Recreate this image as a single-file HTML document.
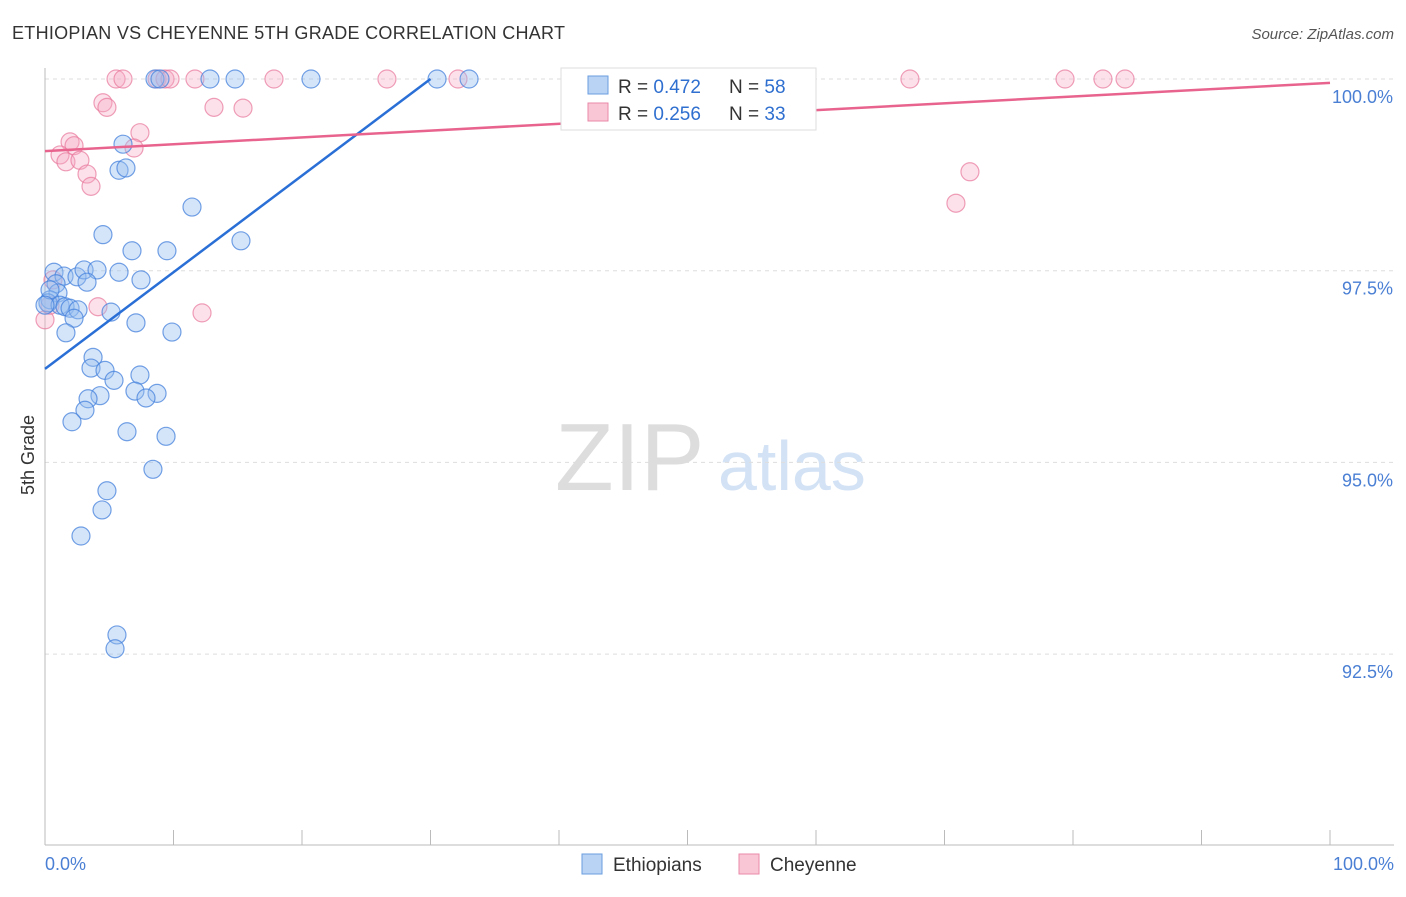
<!DOCTYPE html>
<html><head><meta charset="utf-8"><style>
body{margin:0;background:#fff;font-family:"Liberation Sans",sans-serif;}
svg text{font-family:"Liberation Sans",sans-serif;}
</style></head><body>
<svg id="chart" width="1406" height="892">
<text x="12" y="39" font-size="18" fill="#333" textLength="553">ETHIOPIAN VS CHEYENNE 5TH GRADE CORRELATION CHART</text>
<text x="1394" y="39" font-size="15" fill="#555" font-style="italic" text-anchor="end">Source: ZipAtlas.com</text>
<text x="555" y="490" font-size="96" fill="#ddd" font-family="Liberation Serif">ZIP</text>
<text x="718" y="490" font-size="70" fill="#d3e2f5">atlas</text>
<text x="34" y="455" font-size="18" fill="#333" transform="rotate(-90 34 455)" text-anchor="middle">5th Grade</text>
<g id="grid"></g><g id="pts"></g><g id="lines"></g>
<g>
<rect x="561" y="68" width="255" height="62" fill="#fff" stroke="#ddd"/>
<rect x="588" y="76" width="20" height="18" fill="#b9d3f5" stroke="#6a9de0"/>
<rect x="588" y="103" width="20" height="18" fill="#f9c6d5" stroke="#eb8aa8"/>
<text x="618" y="93" font-size="19" fill="#333">R = <tspan fill="#2f6fcf">0.472</tspan></text>
<text x="729" y="93" font-size="19" fill="#333">N = <tspan fill="#2f6fcf">58</tspan></text>
<text x="618" y="120" font-size="19" fill="#333">R = <tspan fill="#2f6fcf">0.256</tspan></text>
<text x="729" y="120" font-size="19" fill="#333">N = <tspan fill="#2f6fcf">33</tspan></text>
</g>
<g>
<rect x="582" y="854" width="20" height="20" fill="#b9d3f5" stroke="#6a9de0"/>
<text x="613" y="871" font-size="19" fill="#333">Ethiopians</text>
<rect x="739" y="854" width="20" height="20" fill="#f9c6d5" stroke="#eb8aa8"/>
<text x="770" y="871" font-size="19" fill="#333">Cheyenne</text>
</g>
<text x="45" y="870" font-size="18" fill="#4a7fd4">0.0%</text>
<text x="1394" y="870" font-size="18" fill="#4a7fd4" text-anchor="end">100.0%</text>
</svg>
<script>
const yTicks=[100,97.5,95,92.5];
const yTickLabels=["100.0%","97.5%","95.0%","92.5%"];
const xTicks=[0,10,20,30,40,50,60,70,80,90,100];
const ethX=[8.56,8.95,12.84,14.79,20.70,30.51,33.0,6.07,5.76,6.30,11.44,4.51,6.77,9.49,15.25,0.70,1.48,2.49,3.04,4.05,5.76,7.47,3.27,0.86,1.01,0.39,0.23,1.17,1.56,1.95,2.57,5.14,2.26,7.08,9.88,1.63,3.74,3.58,4.67,5.37,7.39,7.00,8.72,7.86,4.28,3.35,3.11,2.10,6.38,9.42,8.40,4.82,4.44,2.80,5.60,5.45,0.39,0];
const ethY=[100,100,100,100,100,100,100,99.15,98.81,98.84,98.33,97.97,97.76,97.76,97.89,97.48,97.43,97.42,97.51,97.51,97.48,97.38,97.35,97.33,97.21,97.12,97.08,97.05,97.03,97.01,96.99,96.96,96.88,96.82,96.70,96.69,96.37,96.23,96.20,96.07,96.14,95.93,95.90,95.84,95.87,95.83,95.68,95.53,95.40,95.34,94.91,94.63,94.38,94.04,92.75,92.57,97.25,97.05];
const cheX=[5.53,6.07,8.72,9.34,9.73,11.67,17.82,26.61,32.14,67.31,79.38,82.33,84.05,4.51,4.82,13.15,15.41,1.95,2.26,7.39,6.93,1.17,1.63,2.72,3.27,3.58,71.98,70.89,4.12,12.22,0.62,0,0.39];
const cheY=[100,100,100,100,100,100,100,100,100,100,100,100,100,99.69,99.63,99.63,99.62,99.18,99.13,99.30,99.10,99.01,98.92,98.94,98.76,98.60,98.79,98.38,97.03,96.95,97.38,96.86,97.05];
const ethTrendX=[0,30.0];const ethTrendY=[96.22,100];
const cheTrendX=[0,100];const cheTrendY=[99.06,99.95];
const NS="http://www.w3.org/2000/svg";
const sx=v=>45+v*12.85, sy=v=>79+(100-v)*76.68;
function mk(tag,at,parent){const e=document.createElementNS(NS,tag);for(const k in at)e.setAttribute(k,at[k]);document.getElementById(parent).appendChild(e);return e;}
yTicks.forEach((t,i)=>{
 const l=mk('line',{x1:45,x2:1394,y1:sy(t),y2:sy(t),stroke:'#ddd','stroke-dasharray':'4,4'},'grid');
 
 
 const tx=mk('text',{x:1393,y:sy(t)+24,'font-size':18,fill:'#4a7fd4','text-anchor':'end'},'grid');tx.textContent=yTickLabels[i];
 
 
});
const ax=mk('line',{x1:45,x2:45,y1:68,y2:845,stroke:'#bbb'},'grid');


const bx=mk('line',{x1:45,x2:1394,y1:845,y2:845,stroke:'#bbb'},'grid');


xTicks.forEach(t=>{const l=mk('line',{x1:sx(t),x2:sx(t),y1:830,y2:845,stroke:'#bbb'},'grid');
 
 });
cheX.forEach((x,i)=>{const c=mk('circle',{cx:sx(x),cy:sy(cheY[i]),r:9,fill:'rgba(246,170,195,0.35)',stroke:'rgba(232,120,155,0.7)','stroke-width':1.2},'pts');
 
 });
ethX.forEach((x,i)=>{const c=mk('circle',{cx:sx(x),cy:sy(ethY[i]),r:9,fill:'rgba(150,190,240,0.4)',stroke:'rgba(70,130,220,0.75)','stroke-width':1.2},'pts');
 
 });
const l1=mk('line',{x1:sx(ethTrendX[0]),y1:sy(ethTrendY[0]),x2:sx(ethTrendX[1]),y2:sy(ethTrendY[1]),stroke:'#2a6fd6','stroke-width':2.5},'lines');


const l2=mk('line',{x1:sx(cheTrendX[0]),y1:sy(cheTrendY[0]),x2:sx(cheTrendX[1]),y2:sy(cheTrendY[1]),stroke:'#e8648e','stroke-width':2.5},'lines');


</script>
</body></html>
